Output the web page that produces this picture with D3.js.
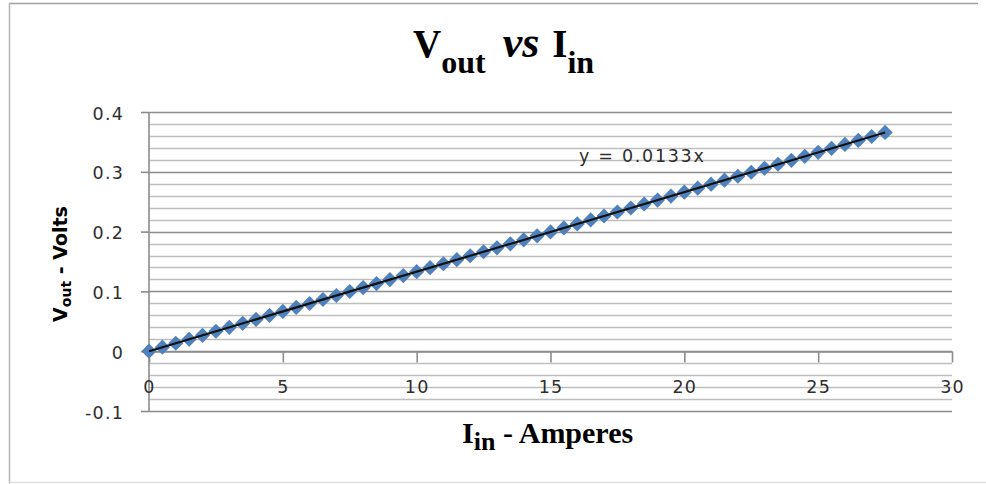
<!DOCTYPE html>
<html>
<head>
<meta charset="utf-8">
<script src="https://cdn.jsdelivr.net/npm/d3@7"></script>
<style>
  body { margin: 0; background: #fff; }
  svg { display: block; }
</style>
</head>
<body>
<div class="graphic"></div>
<script>
// data: current in amperes, output in volts
var currentA = [0, 0.5, 1, 1.5, 2, 2.5, 3, 3.5, 4, 4.5, 5, 5.5, 6, 6.5, 7, 7.5, 8, 8.5, 9, 9.5,
  10, 10.5, 11, 11.5, 12, 12.5, 13, 13.5, 14, 14.5, 15, 15.5, 16, 16.5, 17, 17.5, 18, 18.5, 19, 19.5,
  20, 20.5, 21, 21.5, 22, 22.5, 23, 23.5, 24, 24.5, 25, 25.5, 26, 26.5, 27, 27.5];
var voltsOut = [0, 0.0067, 0.0133, 0.0200, 0.0266, 0.0333, 0.0399, 0.0466, 0.0532, 0.0599,
  0.0665, 0.0732, 0.0798, 0.0865, 0.0931, 0.0998, 0.1064, 0.1131, 0.1197, 0.1264,
  0.1330, 0.1397, 0.1463, 0.1530, 0.1596, 0.1663, 0.1729, 0.1796, 0.1862, 0.1929,
  0.1995, 0.2062, 0.2128, 0.2195, 0.2261, 0.2328, 0.2394, 0.2461, 0.2527, 0.2594,
  0.2660, 0.2727, 0.2793, 0.2860, 0.2926, 0.2993, 0.3059, 0.3126, 0.3192, 0.3259,
  0.3325, 0.3392, 0.3458, 0.3525, 0.3591, 0.3658];
var trendSlope = 0.0133;
var xTicks = [0, 5, 10, 15, 20, 25, 30];
var yTicks = [-0.1, 0, 0.1, 0.2, 0.3, 0.4];
var yMinorTicks = [-0.1, -0.08, -0.06, -0.04, -0.02, 0, 0.02, 0.04, 0.06, 0.08, 0.1, 0.12, 0.14,
  0.16, 0.18, 0.2, 0.22, 0.24, 0.26, 0.28, 0.3, 0.32, 0.34, 0.36, 0.38, 0.4];

var width = 986, height = 484;
var margin = { left: 149, right: 34, top: 112, bottom: 73 };
var sansFont = "'DejaVu Sans', Verdana, sans-serif";
var serifFont = "'Liberation Serif', 'Times New Roman', serif";
var labelColor = "#2e2e2e";

var svg = d3.select(".graphic").append("svg")
  .attr("width", width)
  .attr("height", height);

// outer frame (top, left, bottom)
var frame = svg.append("g").attr("stroke", "#b4b4b4").attr("stroke-width", 1.5).attr("fill", "none");
frame.append("line").attr("x1", 9).attr("x2", 978).attr("y1", 3.5).attr("y2", 3.5).attr("stroke", "#a0a0a0");
frame.append("line").attr("x1", 9.5).attr("x2", 9.5).attr("y1", 3).attr("y2", 484);
frame.append("line").attr("x1", 9).attr("x2", 986).attr("y1", 482.5).attr("y2", 482.5).attr("stroke", "#e0e0e0");

var x = d3.scaleLinear().domain([0, 30]).range([margin.left, width - margin.right]);
var y = d3.scaleLinear().domain([-0.1, 0.4]).range([height - margin.bottom, margin.top]);

function isMajor(d) { return Math.abs(d * 10 - Math.round(d * 10)) < 1e-6; }

// gridlines
svg.append("g")
  .selectAll("line")
  .data(yMinorTicks)
  .enter()
  .append("line")
  .attr("x1", x(0)).attr("x2", x(30))
  .attr("y1", function(d) { return Math.round(y(d)) + 0.5; })
  .attr("y2", function(d) { return Math.round(y(d)) + 0.5; })
  .attr("stroke", function(d) { return isMajor(d) ? "#8c8c8c" : "#bebebe"; })
  .attr("stroke-width", 1.6);

// y axis
var yAxis = svg.append("g")
  .attr("transform", "translate(" + x(0) + ",0)")
  .call(d3.axisLeft(y).tickValues(yTicks).tickSize(8).tickPadding(17)
    .tickFormat(function(d) { return d === 0 ? "0" : d.toFixed(1); }));
yAxis.selectAll("path, line").attr("stroke", "#8c8c8c").attr("stroke-width", 1.6);
yAxis.select(".domain").attr("d", "M0," + y(0.4) + "V" + y(-0.1));
yAxis.selectAll("text")
  .attr("fill", labelColor)
  .attr("dy", "0.4em")
  .style("font-family", sansFont)
  .style("font-size", "17.5px")
  .style("letter-spacing", "1.2px");

// x axis sits at y = 0
var xAxis = svg.append("g")
  .attr("transform", "translate(0," + (Math.round(y(0)) + 0.5) + ")")
  .call(d3.axisBottom(x).tickValues(xTicks).tickSize(11).tickSizeOuter(0));
xAxis.selectAll("path, line").attr("stroke", "#8c8c8c").attr("stroke-width", 1.6);
xAxis.selectAll("text")
  .attr("fill", labelColor)
  .attr("y", 41).attr("dy", 0)
  .style("font-family", sansFont)
  .style("font-size", "17.5px")
  .style("letter-spacing", "1.2px");

// data points as diamonds
var points = currentA.map(function(d, i) { return { x: d, y: voltsOut[i] }; });
svg.append("g")
  .selectAll("path")
  .data(points)
  .enter()
  .append("path")
  .attr("transform", function(d) { return "translate(" + x(d.x) + "," + y(d.y) + ") rotate(45)"; })
  .attr("d", d3.symbol().type(d3.symbolSquare).size(115))
  .attr("fill", "#4f81bd");

// linear trendline through origin
var trendX = d3.extent(currentA);
svg.append("line")
  .attr("x1", x(trendX[0])).attr("y1", y(trendX[0] * trendSlope))
  .attr("x2", x(trendX[1])).attr("y2", y(trendX[1] * trendSlope))
  .attr("stroke", "#111")
  .attr("stroke-width", 2.2);

svg.append("text")
  .attr("x", 579).attr("y", 162)
  .attr("fill", labelColor)
  .style("font-family", sansFont)
  .style("font-size", "17.5px")
  .style("letter-spacing", "1.7px")
  .text("y = 0.0133x");

// title
var title = svg.append("text")
  .attr("x", 413).attr("y", 57)
  .attr("fill", "#000")
  .style("font-family", serifFont)
  .style("font-weight", "bold")
  .style("font-size", "39px");
title.append("tspan").text("V");
title.append("tspan").attr("dy", 16).style("font-size", "32px").text("out");
title.append("tspan").attr("dy", -16).attr("dx", 6).style("font-style", "italic").style("font-size", "44px").text(" vs ");
title.append("tspan").attr("dx", 2).text("I");
title.append("tspan").attr("dy", 16).style("font-size", "32px").text("in");

// x axis title
var xTitle = svg.append("text")
  .attr("x", 462).attr("y", 443)
  .attr("fill", "#000")
  .style("font-family", serifFont)
  .style("font-weight", "bold")
  .style("font-size", "30px");
xTitle.append("tspan").text("I");
xTitle.append("tspan").attr("dy", 7).style("font-size", "26px").text("in");
xTitle.append("tspan").attr("dy", -7).text(" - Amperes");

// y axis title
var yTitle = svg.append("text")
  .attr("transform", "translate(67,264) rotate(-90)")
  .attr("text-anchor", "middle")
  .attr("fill", "#000")
  .style("font-family", sansFont)
  .style("font-weight", "bold")
  .style("font-size", "19px");
yTitle.append("tspan").text("V");
yTitle.append("tspan").attr("dy", 4).style("font-size", "14px").text("out");
yTitle.append("tspan").attr("dy", -4).text(" - Volts");
</script>
</body>
</html>
